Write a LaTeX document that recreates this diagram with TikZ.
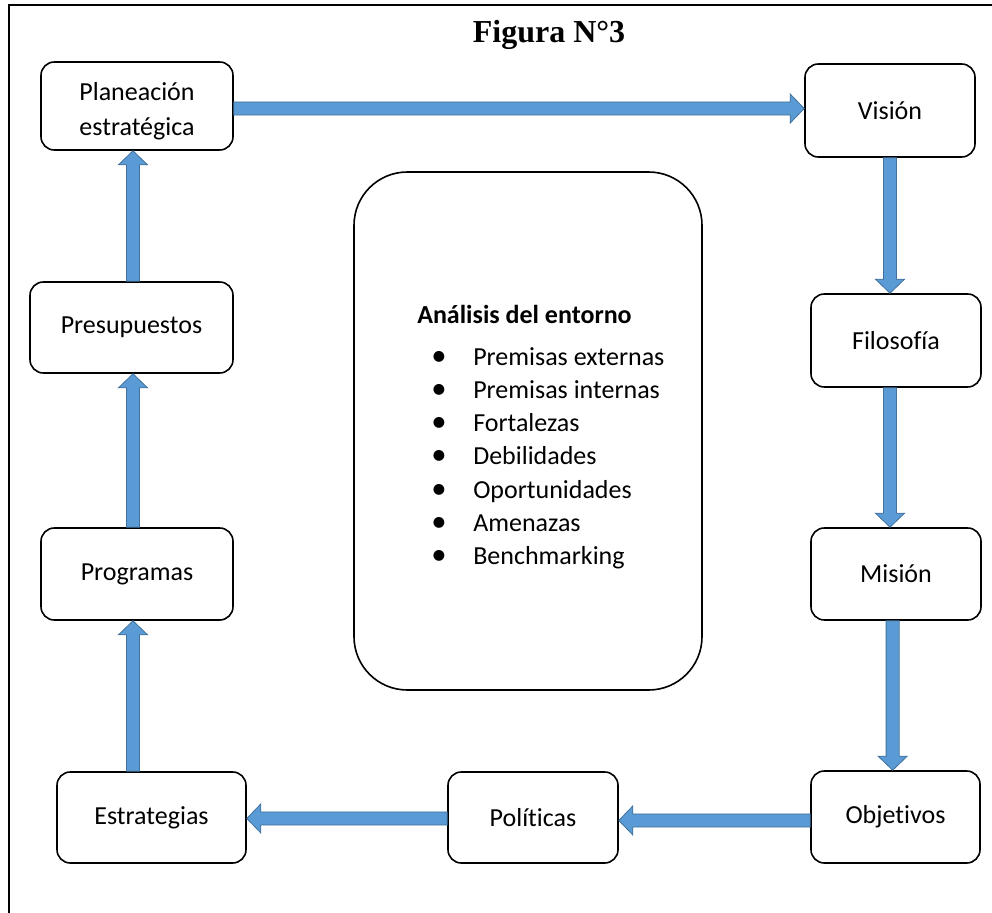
\documentclass[tikz,border=0pt]{standalone}
\usepackage{fontspec}
\setmainfont{Carlito}[Ligatures={NoCommon}]
\newfontfamily\titlefont{Liberation Serif}
\usetikzlibrary{calc}
\definecolor{arrfill}{HTML}{5B9BD5}
\definecolor{arrline}{HTML}{41719C}
\newcommand\blockarrow[2]{%
  \coordinate (hb) at ($(#2)!10.5pt!(#1)$);
  \filldraw[fill=arrfill,draw=arrline,line width=0.6pt,line join=miter]
   ($(#1)!4.9pt!90:(#2)$) -- ($(hb)!4.9pt!90:(#2)$) -- ($(hb)!10.9pt!90:(#2)$) -- (#2)
   -- ($(hb)!10.9pt!-90:(#2)$) -- ($(hb)!4.9pt!-90:(#2)$) -- ($(#1)!4.9pt!-90:(#2)$) -- cycle;}
\begin{document}
\begin{tikzpicture}[x=0.75pt,y=-0.75pt,
  box/.style={draw,line width=1.2pt,rounded corners=10pt,inner sep=0pt,
    font=\fontsize{19.5}{25}\selectfont,align=center},
  itemtxt/.style={anchor=base west,inner sep=0pt,font=\fontsize{19.5}{25}\selectfont}]
\useasboundingbox (0,0) rectangle (992,913);
\draw[line width=1.5pt] (9,913) -- (9,5) -- (992,5);
\node[font=\titlefont\bfseries\fontsize{24}{28}\selectfont,anchor=base,inner sep=0pt] (title) at (549,43) {Figura N°3};

\node[box,minimum width=144pt,minimum height=66pt] (plan) at (137,106) {};
\node[inner sep=0pt,align=center,font=\fontsize{19.5}{26.5}\selectfont] (plantxt) at (137,111) {Planeación\\estratégica};
\node[box,minimum width=127.5pt,minimum height=69.75pt] (vis) at (890,110.5) {Visión};
\node[box,minimum width=127.5pt,minimum height=69.75pt] (fil) at (896,340.5) {Filosofía};
\node[box,minimum width=127.5pt,minimum height=69pt] (mis) at (896,574) {Misión};
\node[box,minimum width=126.75pt,minimum height=69pt] (obj) at (895.5,817) {Objetivos};
\node[box,minimum width=127.5pt,minimum height=68.25pt] (pol) at (533,817.5) {Políticas};
\node[box,minimum width=141.75pt,minimum height=68.25pt] (est) at (151.5,817.5) {Estrategias};
\node[box,minimum width=144pt,minimum height=69pt] (prog) at (137,574) {Programas};
\node[box,minimum width=152.25pt,minimum height=68.25pt] (pres) at (131.5,327.5) {Presupuestos};

\node[draw,line width=1.2pt,rounded corners=40pt,minimum width=261pt,minimum height=388.5pt,inner sep=0pt] (env) at (528,431) {};
\node[itemtxt,font=\fontsize{19.5}{25}\selectfont\bfseries] (envt) at (417,323) {Análisis del entorno};
\foreach \t [count=\i] in {Premisas externas,Premisas internas,Fortalezas,Debilidades,Oportunidades,Amenazas,Benchmarking}{
  \node[itemtxt] (b\i) at (431,{365+33.33*(\i-1)}) {\makebox[31.5pt][l]{\fontsize{23}{25}\selectfont\textbullet}\t};
}

\coordinate (ty) at ([yshift=-1.9pt]plan.east);
\coordinate (rx) at (vis.center);
\coordinate (by) at ([yshift=-2.6pt]obj.center);
\coordinate (lx) at ([xshift=-3pt]prog.center);

\coordinate (a1s) at (ty);
\coordinate (a1t) at (ty -| vis.west);
\coordinate (a2s) at (rx |- vis.south);
\coordinate (a2t) at (rx |- fil.north);
\coordinate (a3s) at (rx |- fil.south);
\coordinate (a3t) at (rx |- mis.north);
\coordinate (a4s) at ([xshift=2pt]rx |- mis.south);
\coordinate (a4t) at ([xshift=2pt]rx |- obj.north);
\coordinate (a5s) at (by -| obj.west);
\coordinate (a5t) at (by -| pol.east);
\coordinate (a6s) at ([yshift=1.5pt]by -| pol.west);
\coordinate (a6t) at ([yshift=1.5pt]by -| est.east);
\coordinate (a7s) at (lx |- est.north);
\coordinate (a7t) at (lx |- prog.south);
\coordinate (a8s) at (lx |- prog.north);
\coordinate (a8t) at (lx |- pres.south);
\coordinate (a9s) at (lx |- pres.north);
\coordinate (a9t) at (lx |- plan.south);

\blockarrow{a1s}{a1t}
\blockarrow{a2s}{a2t}
\blockarrow{a3s}{a3t}
\blockarrow{a4s}{a4t}
\blockarrow{a5s}{a5t}
\blockarrow{a6s}{a6t}
\blockarrow{a7s}{a7t}
\blockarrow{a8s}{a8t}
\blockarrow{a9s}{a9t}
\end{tikzpicture}
\end{document}
